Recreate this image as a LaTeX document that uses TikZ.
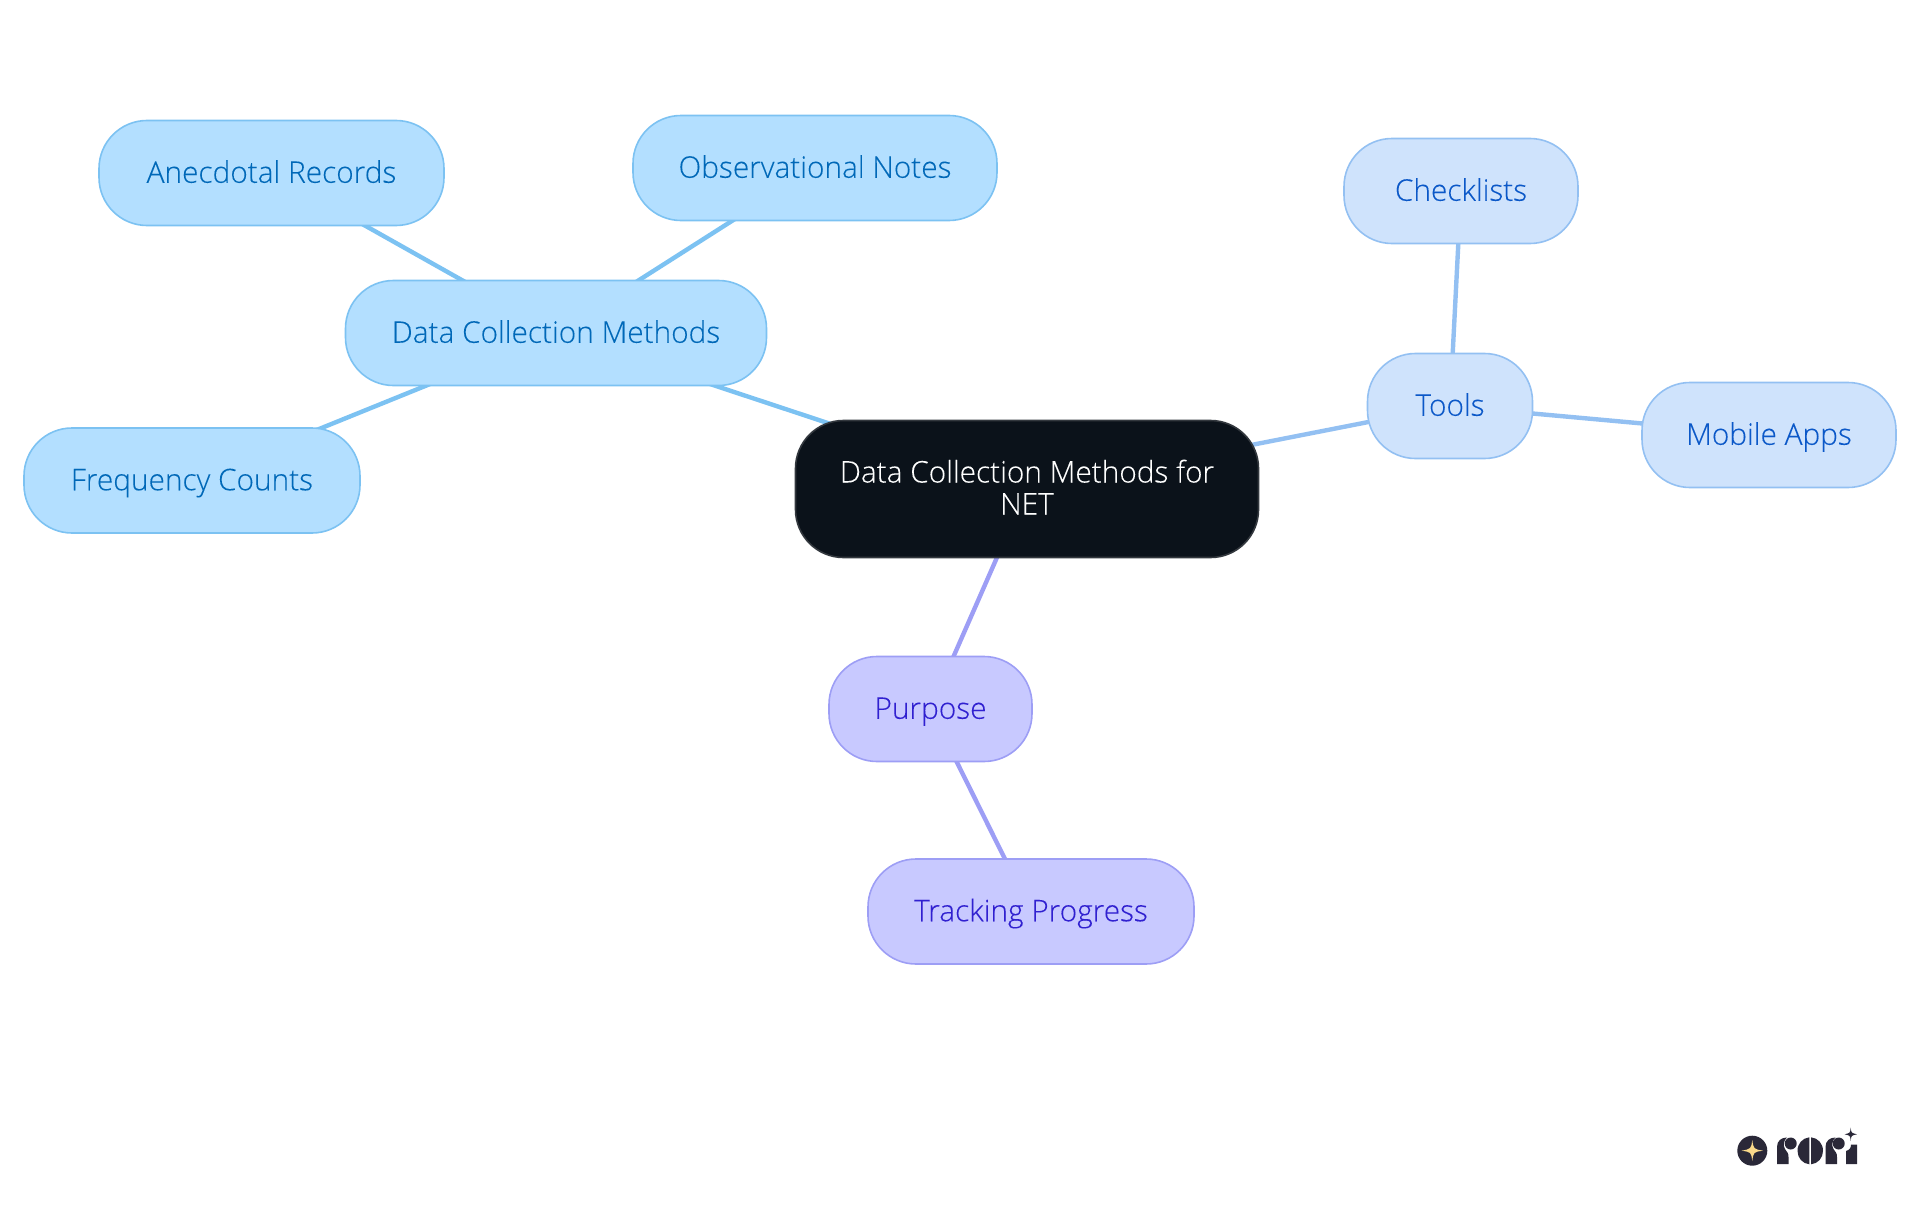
\documentclass[tikz,border=0pt]{standalone}
\usepackage{fontspec}
\setmainfont{Open Sans Light}[FakeBold=0.12]
\pgfdeclarelayer{edges}
\pgfsetlayers{edges,main}
\definecolor{bluefill}{HTML}{B3DFFF}\definecolor{bluedraw}{HTML}{7CC2F2}\definecolor{bluetext}{HTML}{0068B8}
\definecolor{skyfill}{HTML}{CFE3FC}\definecolor{skydraw}{HTML}{93C0F2}\definecolor{skytext}{HTML}{0B58C8}
\definecolor{violetfill}{HTML}{C8C9FF}\definecolor{violetdraw}{HTML}{9D9EF5}\definecolor{violettext}{HTML}{3020D0}
\definecolor{rootfill}{HTML}{0B121A}\definecolor{rootdraw}{HTML}{33383E}
\definecolor{logodark}{HTML}{2A2838}\definecolor{logostar}{HTML}{FAD98A}
\tikzset{
  x=1pt,y=-1pt,
  mm/.style={rectangle,rounded corners=48pt,line width=1.6pt,inner sep=0pt,align=center,
    text height=27pt,text depth=7.5pt,
    font=\fontsize{29.8}{32}\selectfont},
  size/.style args={#1x#2}{minimum width=#1pt,minimum height=#2pt},
  bluenode/.style={mm,fill=bluefill,draw=bluedraw,text=bluetext},
  skynode/.style={mm,fill=skyfill,draw=skydraw,text=skytext},
  violetnode/.style={mm,fill=violetfill,draw=violetdraw,text=violettext},
  rootnode/.style={mm,fill=rootfill,draw=rootdraw,text=white,text height=59pt,text depth=8pt},
  conn/.style={line width=4.4pt}
}
\begin{document}
\begin{tikzpicture}
\useasboundingbox (0,0) rectangle (1920,1215);
\node[rootnode,size=463x137] (root) at (1027,489) {Data Collection Methods for\\NET};
\node[bluenode,size=421x105] (dcm) at (556,333) {Data Collection Methods};
\node[bluenode,size=345x105] (anec) at (271.5,173) {Anecdotal Records};
\node[bluenode,size=364x105] (obs) at (815,168) {Observational Notes};
\node[bluenode,size=336x105] (freq) at (192,480.5) {Frequency Counts};
\node[skynode,size=165x105] (tools) at (1450,406) {Tools};
\node[skynode,size=234x105] (check) at (1461,191) {Checklists};
\node[skynode,size=254x105] (mobile) at (1769,435) {Mobile Apps};
\node[violetnode,size=203x105] (purpose) at (930.5,709) {Purpose};
\node[violetnode,size=326x105] (track) at (1031,911.5) {Tracking Progress};
\begin{pgfonlayer}{edges}
\draw[conn,bluedraw] (root.center) -- (dcm.center);
\draw[conn,bluedraw] (dcm.center) -- (anec.center);
\draw[conn,bluedraw] (dcm.center) -- (obs.center);
\draw[conn,bluedraw] (dcm.center) -- (freq.center);
\draw[conn,skydraw] (root.center) -- (tools.center);
\draw[conn,skydraw] (tools.center) -- (check.center);
\draw[conn,skydraw] (tools.center) -- (mobile.center);
\draw[conn,violetdraw] (root.center) -- (purpose.center);
\draw[conn,violetdraw] (purpose.center) -- (track.center);
\end{pgfonlayer}
% logo
\fill[logodark] (1752.3,1150.7) circle (15);
\fill[logostar] (1752.3,1140) .. controls (1753.5,1149) .. (1763,1150.7) .. controls (1753.5,1152) .. (1752.3,1161) .. controls (1751,1152) .. (1741.5,1150.7) .. controls (1751,1149) .. cycle;
\fill[logodark] (1777,1164) -- (1777,1147) .. controls (1777,1141) and (1781,1137.5) .. (1787,1137.5) .. controls (1783.5,1140) and (1783,1146) .. (1785,1149) .. controls (1787,1152) and (1788.5,1153) .. (1788.5,1157) -- (1788.5,1164) -- cycle;
\fill[logodark] (1790.7,1143.5) circle (6);
\fill[logodark] (1809.3,1137.3) .. controls (1802.5,1138) and (1797.5,1143.5) .. (1797.5,1150.8) .. controls (1797.5,1158) and (1802.5,1163.6) .. (1809.3,1164.3) -- cycle;
\fill[logodark] (1811,1137.3) .. controls (1818,1138) and (1823,1143.5) .. (1823,1150.8) .. controls (1823,1158) and (1818,1163.6) .. (1811,1164.3) -- cycle;
\fill[logodark] (1825.5,1164) -- (1825.5,1147) .. controls (1825.5,1141) and (1829.5,1137.5) .. (1835.5,1137.5) .. controls (1832,1140) and (1831.5,1146) .. (1833.5,1149) .. controls (1835.5,1152) and (1837,1153) .. (1837,1157) -- (1837,1164) -- cycle;
\fill[logodark] (1838.7,1143.5) circle (6);
\fill[logodark] (1846,1164) -- (1846,1151) .. controls (1849.5,1150) and (1851,1148) .. (1851,1144.5) -- (1857,1144.5) -- (1857,1164) -- cycle;
\fill[logodark] (1850.7,1127.5) .. controls (1851.2,1133) .. (1857,1134.3) .. controls (1851.2,1135.5) .. (1850.7,1141) .. controls (1850.2,1135.5) .. (1844.5,1134.3) .. controls (1850.2,1133) .. cycle;
\end{tikzpicture}
\end{document}
